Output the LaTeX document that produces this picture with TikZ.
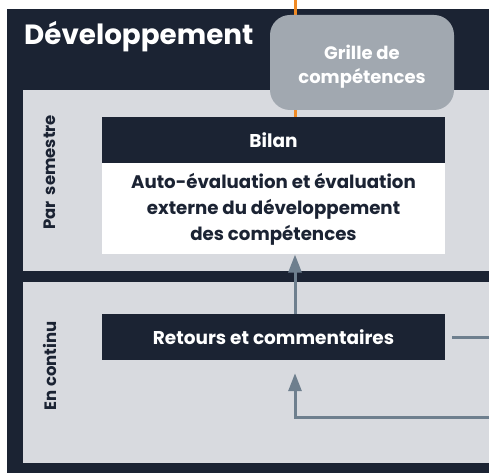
\documentclass[tikz,border=0pt]{standalone}
\usepackage{fontspec}
\setmainfont{Poppins}
\usetikzlibrary{arrows.meta,positioning}
\definecolor{navy}{HTML}{1B2333}
\definecolor{panelgray}{HTML}{D8DADF}
\definecolor{linegray}{HTML}{6E7F8E}
\definecolor{grillegray}{HTML}{A1A8B0}
\definecolor{orangeline}{HTML}{F08A24}
\tikzset{
  darkbox/.style={fill=navy, text=white, font=\bfseries\fontsize{18.5}{22}\selectfont,
    minimum width=343pt, minimum height=46pt, inner sep=0pt},
  whitebox/.style={fill=white, text=navy, font=\bfseries\fontsize{18.2}{26}\selectfont,
    minimum width=343pt, minimum height=91pt, inner sep=0pt, align=center},
  sidelabel/.style={rotate=90, text=navy, font=\bfseries\fontsize{16.5}{18}\selectfont},
  flow/.style={linegray, line width=3pt},
  flowarrow/.style={flow, -{Triangle[width=13pt,length=18pt]}}
}
\begin{document}
\begin{tikzpicture}[x=1pt,y=1pt]
        \useasboundingbox (0,0) rectangle (489,-473);
        \fill [navy] (7,-9) rectangle (489,-473);
        \node [anchor=base west, text=white, font=\bfseries\fontsize{27.8}{32}\selectfont, inner sep=0pt] (title) at (24,-45) {Développement};

        \fill [panelgray] (23,-90) rectangle (489,-271);
        \fill [panelgray] (23,-282) rectangle (489,-463);
        \node [sidelabel] (semestre) at (50,-172.5) {Par\, semestre};
        \node [sidelabel] (continu) at (50,-366) {En continu};

        \node [darkbox] (bilan) at (273.5,-140) {Bilan};
        \node [whitebox, below=0pt of bilan] (autoeval) {Auto-évaluation et évaluation\\externe du développement\\des compétences};
        \node [darkbox] (retours) at (273.5,-337) {Retours et commentaires};

        \coordinate (top) at (295,0);
        \draw [orangeline, line width=3pt] (top) -- (top |- bilan.north);
        \node [fill=grillegray, rounded corners=20pt, minimum width=184pt, minimum height=95pt] (grille) at (362,-62.5) {};
        \node [text=white, font=\bfseries\fontsize{18}{24}\selectfont, align=center] (grilletxt) at ([yshift=-4pt]grille.center) {Grille de\\compétences};

        \draw [flowarrow] (retours.north -| top) -- (autoeval.south -| top);
        \coordinate (sortie) at (489,-337);
        \draw [flow] ([xshift=7pt]retours.east) -- (sortie);
        \coordinate (entree) at (489,-417.5);
        \draw [flowarrow, shorten >=13pt] (entree) -- (entree -| top) -- (retours.south -| top);
\end{tikzpicture}
\end{document}
